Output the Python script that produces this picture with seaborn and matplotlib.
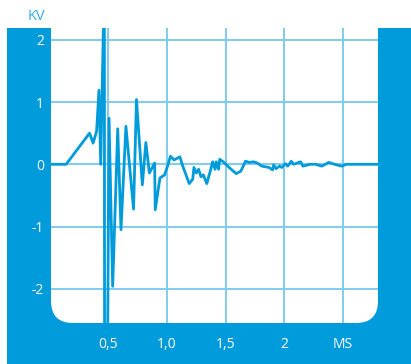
import numpy as np
import pandas as pd
import seaborn as sns
import matplotlib.pyplot as plt
from matplotlib.patches import FancyBboxPatch, Rectangle

# signal trace (ms, kV)
time_ms = [0.0, 0.14, 0.34, 0.37, 0.40, 0.42, 0.435, 0.466, 0.470, 0.506, 0.537, 0.58, 0.608,
           0.65, 0.715, 0.74, 0.79, 0.82, 0.85, 0.895, 0.90, 0.94, 0.98, 1.01, 1.03, 1.06,
           1.11, 1.135, 1.19, 1.22, 1.23, 1.25, 1.27, 1.29, 1.31, 1.34, 1.375, 1.39, 1.41,
           1.42, 1.44, 1.45, 1.48, 1.53, 1.59, 1.63, 1.67, 1.70, 1.74, 1.77, 1.81, 1.87,
           1.90, 1.91, 1.93, 1.96, 1.98, 2.01, 2.03, 2.06, 2.08, 2.11, 2.14, 2.16, 2.22,
           2.27, 2.32, 2.38, 2.43, 2.49, 2.53, 2.80]
kv = [0.0, 0.0, 0.50, 0.34, 0.53, 1.19, 0.0, 3.0, -10.0, 0.74, -1.96, 0.57, -1.05,
      0.61, -0.72, 1.04, -0.33, 0.35, -0.14, 0.02, -0.73, -0.22, -0.17, 0.0, 0.13, 0.07,
      0.12, -0.03, -0.31, -0.24, -0.05, -0.14, -0.08, -0.20, -0.17, -0.31, -0.07, 0.04, -0.08,
      0.04, -0.08, 0.08, 0.04, -0.05, -0.15, -0.11, 0.05, 0.03, 0.04, 0.02, -0.03, -0.05,
      -0.09, -0.01, -0.07, -0.03, -0.05, 0.01, -0.03, 0.05, 0.0, 0.02, 0.04, -0.03, 0.0,
      0.0, -0.03, 0.03, 0.0, -0.03, 0.0, 0.0]

x_ticks = [0.5, 1.0, 1.5, 2.0, 2.5]
x_labels = ["0,5", "1,0", "1,5", "2", "MS"]
y_ticks = [2, 1, 0, -1, -2]
y_labels = ["2", "1", "0", "-1", "-2"]

blue = "#009bdb"
grid_blue = "#7fcbef"

sns.set_style("white")
plt.rcParams["font.family"] = ["Open Sans", "DejaVu Sans"]

W, H = 411, 364
fig = plt.figure(figsize=(W / 100, H / 100), dpi=100, facecolor="white")

def fx(px):
    return px / W

def fy(py):
    return 1 - py / H

# blue frame
fig.patches.append(Rectangle((fx(7), 0), fx(411) - fx(7), fy(28), transform=fig.transFigure,
                             facecolor=blue, edgecolor="none", zorder=0))
# white plot area with rounded bottom corners
r = 22
fig.patches.append(FancyBboxPatch((fx(51), fy(323)), fx(378 - 51), fy(28) - fy(323),
                                  boxstyle=f"round,pad=0,rounding_size={r / W}",
                                  transform=fig.transFigure, mutation_aspect=W / H,
                                  facecolor="white", edgecolor="none", zorder=1))
fig.patches.append(Rectangle((fx(51), fy(300)), fx(378 - 51), fy(28) - fy(300),
                             transform=fig.transFigure, facecolor="white", edgecolor="none", zorder=1))

ax = fig.add_axes([fx(51), fy(323), fx(378 - 51), fy(28) - fy(323)])
ax.set_facecolor("none")
ax.set_zorder(2)

df = pd.DataFrame({"ms": time_ms, "kv": kv})
sns.lineplot(data=df, x="ms", y="kv", sort=False, estimator=None, color=blue, linewidth=2, ax=ax)

ax.set_xlim(0.011, 2.80)
ax.set_ylim(-2.55, 2.19)
ax.set_xticks(x_ticks, x_labels)
ax.set_yticks(y_ticks, y_labels)
ax.grid(True, color=grid_blue, linewidth=1.4)
ax.set_axisbelow(True)
ax.tick_params(axis="both", length=0, colors="white", labelsize=10)
ax.tick_params(axis="x", pad=10)
ax.tick_params(axis="y", pad=5)
ax.set_xlabel("")
ax.set_ylabel("")
for s in ax.spines.values():
    s.set_visible(False)

fig.text(fx(36), fy(16), "KV", color="#33aee6", fontsize=10.5, ha="center", va="center")

fig.savefig("out.png", dpi=100, facecolor="white")
